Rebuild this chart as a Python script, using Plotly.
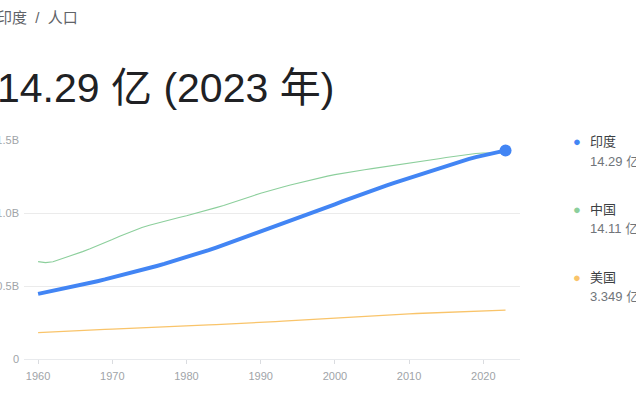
import plotly.graph_objects as go

# ---------------- data (population, millions) ----------------
years = list(range(1960, 2024))

india_m = [445.95, 456.0, 466.3, 476.9, 487.7, 498.6, 509.9, 521.3, 533.1, 545.1,
           557.5, 570.0, 583.0, 596.3, 610.0, 623.3, 637.4, 651.8, 666.5, 681.5,
           696.8, 712.9, 729.4, 746.2, 763.5, 781.7, 799.6, 817.6, 835.8, 853.1,
           870.5, 888.9, 907.6, 926.4, 945.2, 963.9, 983.3, 1002.3, 1021.4, 1040.5,
           1059.6, 1078.9, 1098.3, 1117.4, 1136.3, 1154.6, 1172.4, 1189.7, 1206.7, 1223.6,
           1240.6, 1257.6, 1274.5, 1291.1, 1307.2, 1322.9, 1338.6, 1354.2, 1369.0, 1383.1,
           1396.4, 1407.6, 1417.2, 1428.6]

china_m = [667.1, 660.3, 666.0, 682.3, 698.4, 715.2, 735.4, 754.6, 774.5, 796.0,
           818.3, 841.1, 862.0, 881.9, 900.4, 916.4, 930.7, 943.5, 956.2, 969.0,
           981.2, 993.9, 1008.6, 1023.3, 1036.8, 1051.0, 1066.8, 1084.0, 1101.6, 1118.7,
           1135.2, 1150.8, 1165.0, 1178.4, 1191.8, 1204.9, 1217.6, 1230.1, 1241.9, 1252.7,
           1262.6, 1271.9, 1280.4, 1288.4, 1296.1, 1303.7, 1311.0, 1317.9, 1324.7, 1331.3,
           1337.7, 1345.0, 1354.2, 1363.2, 1371.9, 1379.9, 1387.8, 1396.2, 1402.8, 1407.7,
           1411.1, 1412.4, 1412.2, 1410.7]

usa_m = [180.7, 183.7, 186.5, 189.2, 191.9, 194.3, 196.6, 198.7, 200.7, 202.7,
         205.1, 207.7, 209.9, 211.9, 213.9, 216.0, 218.0, 220.2, 222.6, 225.1,
         227.2, 229.5, 231.7, 233.8, 235.8, 237.9, 240.1, 242.3, 244.5, 246.8,
         249.6, 253.0, 256.5, 259.9, 263.1, 266.3, 269.4, 272.7, 275.9, 279.0,
         282.2, 285.0, 287.6, 290.1, 292.8, 295.5, 298.4, 301.2, 304.1, 306.8,
         309.3, 311.6, 313.9, 316.1, 318.4, 320.7, 323.1, 325.1, 326.8, 328.3,
         331.5, 332.0, 333.3, 334.9]

series_names = ["印度", "中国", "美国"]
legend_values = ["14.29 亿", "14.11 亿", "3.349 亿"]
x_tick_vals = [1960, 1970, 1980, 1990, 2000, 2010, 2020]
y_tick_vals = [0, 0.5, 1.0, 1.5]
y_tick_text = ["0", "0.5B", "1.0B", "1.5B"]
breadcrumb = "印度\u00a0\u00a0/\u00a0\u00a0人口"
headline = "14.29 亿 (2023 年)"

# ---------------- styling ----------------
BLUE = "#4285f4"
GREEN = "#8ccf9c"
ORANGE = "#f9c46a"
FONT = "Arial, 'Liberation Sans', 'Noto Sans CJK SC', sans-serif"

W, H = 636, 393
ML, MR, MT, MB = 24, 116, 140, 34
PW, PH = W - ML - MR, H - MT - MB


def px(x):
    return (x - ML) / PW


def py(y):
    return (H - MB - y) / PH


def to_b(vals):
    return [v / 1000.0 for v in vals]


fig = go.Figure()
fig.add_trace(go.Scatter(x=years, y=to_b(usa_m), mode="lines",
                         line=dict(color=ORANGE, width=1.3), hoverinfo="skip"))
fig.add_trace(go.Scatter(x=years, y=to_b(china_m), mode="lines",
                         line=dict(color=GREEN, width=1.1), hoverinfo="skip"))
fig.add_trace(go.Scatter(x=years, y=to_b(india_m), mode="lines",
                         line=dict(color=BLUE, width=4), hoverinfo="skip"))
fig.add_trace(go.Scatter(x=[years[-1]], y=[india_m[-1] / 1000.0], mode="markers",
                         marker=dict(color=BLUE, size=12), hoverinfo="skip"))

annotations = [
    dict(text=breadcrumb, x=px(-5), y=py(17), xref="paper", yref="paper",
         xanchor="left", yanchor="middle", showarrow=False,
         font=dict(family=FONT, size=15, color="#5f6368")),
    dict(text=headline, x=px(-5), y=py(88), xref="paper", yref="paper",
         xanchor="left", yanchor="middle", showarrow=False,
         font=dict(family=FONT, size=41, color="#202124")),
]

legend_rows = [(BLUE, 141, 161), (GREEN, 209, 228), (ORANGE, 277, 296)]
for (col, ya, yb), name, val in zip(legend_rows, series_names, legend_values):
    annotations.append(dict(text="●", x=px(577), y=py(ya), xref="paper", yref="paper",
                            xanchor="center", yanchor="middle", showarrow=False,
                            font=dict(family=FONT, size=13, color=col)))
    annotations.append(dict(text=name, x=px(588), y=py(ya), xref="paper", yref="paper",
                            xanchor="left", yanchor="middle", showarrow=False,
                            font=dict(family=FONT, size=13, color="#3c4043")))
    annotations.append(dict(text=val, x=px(588), y=py(yb), xref="paper", yref="paper",
                            xanchor="left", yanchor="middle", showarrow=False,
                            font=dict(family=FONT, size=13, color="#70757a")))

fig.update_layout(
    width=W, height=H,
    margin=dict(l=ML, r=MR, t=MT, b=MB, pad=0),
    paper_bgcolor="white", plot_bgcolor="white",
    showlegend=False,
    font=dict(family=FONT),
    annotations=annotations,
    xaxis=dict(range=[1958.1, 2024.95], tickvals=x_tick_vals,
               ticks="outside", ticklen=4, tickcolor="#dadce0", tickwidth=1,
               showgrid=False, showline=True, linecolor="#e8eaed", linewidth=1,
               zeroline=False, automargin=False, ticklabelstandoff=3,
               tickfont=dict(family=FONT, size=11, color="#a0a4a8")),
    yaxis=dict(range=[0, 1.5], tickvals=y_tick_vals, ticktext=y_tick_text,
               showgrid=True, gridcolor="#ebebeb", gridwidth=1,
               zeroline=False, showline=False, ticks="", automargin=False,
               ticklabelstandoff=4,
               tickfont=dict(family=FONT, size=11, color="#a0a4a8")),
)

fig.write_html("out.html", config={"displayModeBar": False},
               post_script="document.body.style.margin='0';"
                           "document.body.style.overflow='hidden';")
